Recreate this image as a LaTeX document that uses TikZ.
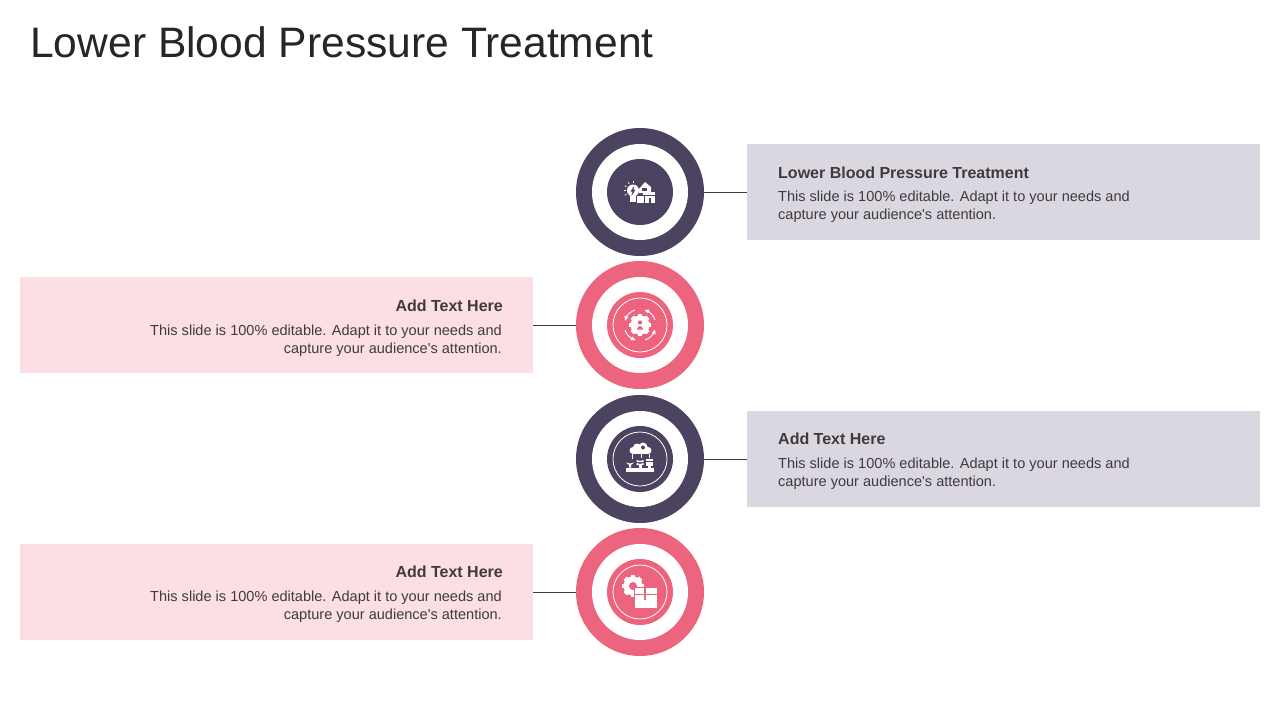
\documentclass[tikz,border=0pt]{standalone}
\usepackage{fontspec}
\setmainfont{Liberation Sans}
\definecolor{darkpurple}{HTML}{4B4360}
\definecolor{rosered}{HTML}{EC647D}
\definecolor{palepurple}{HTML}{DAD7E1}
\definecolor{palerose}{HTML}{FBDFE3}
\definecolor{inktext}{HTML}{3F3B3C}
\newcommand{\slidetext}{This slide is 100\% editable. Adapt it to your needs and\\capture your audience\textquotesingle s attention.}
\tikzset{
  ringdisc/.style={circle,inner sep=0pt,minimum size=128pt,fill=#1},
  holedisc/.style={circle,inner sep=0pt,minimum size=96pt,fill=white},
  coredisc/.style={circle,inner sep=0pt,minimum size=66pt,fill=#1},
  textbox/.style={rectangle,inner sep=0pt,minimum width=513pt,minimum height=96pt,fill=#1},
  headtext/.style={font=\fontsize{16}{19}\selectfont\bfseries,text=inktext,inner sep=0pt},
  bodytext/.style={font=\fontsize{14.55}{18}\selectfont,text=inktext,inner sep=0pt},
  link/.style={draw=inktext,line width=0.7pt},
  gearicon/.pic={
    \foreach \a in {0,45,...,315}
      {\fill[white,rotate=\a] (-2.4,-#1) rectangle (2.4,-#1+3);}
    \fill[white] (0,0) circle (#1-1.5);
  }
}
\begin{document}
\begin{tikzpicture}[x=1pt,y=-1pt]
  \useasboundingbox (0,0) rectangle (1280,720);
  \fill[white] (0,0) rectangle (1280,720);
  \node[anchor=west,inner sep=0pt,font=\fontsize{42.6}{50}\selectfont,text=black!85] (title) at (30,42) {Lower Blood Pressure Treatment};
  % circles
  \foreach \n/\y/\c in {1/192/darkpurple,2/325/rosered,3/459/darkpurple,4/592/rosered}
  {   \node[ringdisc=\c] (ring\n) at (640,\y) {};
      \node[holedisc] (hole\n) at (ring\n.center) {};
      \node[coredisc=\c] (core\n) at (ring\n.center) {};
  }
  \foreach \n in {2,3,4}
  {   \draw[white,line width=0.8pt] (core\n.center) circle (27);
  }
  % boxes
  \node[textbox=palepurple] (box1) at (1003.5,192) {};
  \node[textbox=palerose] (box2) at (276.5,325) {};
  \node[textbox=palepurple] (box3) at (1003.5,459) {};
  \node[textbox=palerose] (box4) at (276.5,592) {};
  \draw[link] (ring1.east) -- (box1.west);
  \draw[link] (ring2.west) -- (box2.east);
  \draw[link] (ring3.east) -- (box3.west);
  \draw[link] (ring4.west) -- (box4.east);
  % right texts
  \node[headtext,anchor=west] (head1) at (778,173) {Lower Blood Pressure Treatment};
  \node[bodytext,anchor=north west,align=left] (body1) at (778,190.5) {\slidetext};
  \node[headtext,anchor=west] (head3) at (778,439) {Add Text Here};
  \node[bodytext,anchor=north west,align=left] (body3) at (778,457.5) {\slidetext};
  % left texts
  \node[headtext,anchor=east] (head2) at (503,306) {Add Text Here};
  \node[bodytext,anchor=north east,align=right] (body2) at (502,324.5) {\slidetext};
  \node[headtext,anchor=east] (head4) at (503,572) {Add Text Here};
  \node[bodytext,anchor=north east,align=right] (body4) at (502,590.5) {\slidetext};
  % icon one, bulb and house
  \begin{scope}[shift={(core1.center)}]
    \fill[white] (-7,-1.5) circle (6);
    \fill[white] (-10,2) rectangle (-4,10);
    \fill[darkpurple] (-6,-6) -- (-9.5,-0.5) -- (-7.5,-0.5) -- (-8.5,4) -- (-4.5,-2.5) -- (-6.5,-2.5) -- cycle;
    \foreach \a in {150,180,210,240,270}
    {   \draw[white,line width=0.7pt] (-7,-1.5) ++(\a:7.5) -- ++(\a:2);
    }
    \fill[white] (-1,-3) -- (5,-10) -- (11,-5) -- (11,1) -- (-1,1) -- cycle;
    \fill[darkpurple] (2,-4) rectangle (7,-1);
    \fill[white] (-3,3.5) rectangle (3.5,11);
    \fill[white] (5,3.5) rectangle (15,11);
    \fill[white] (3,0) rectangle (15,2.5);
    \fill[darkpurple] (8.5,6) rectangle (11,11);
  \end{scope}
  % icon two, gear with arrows
  \begin{scope}[shift={(core2.center)}]
    \pic at (0,0) {gearicon=11};
    \fill[rosered] (0,-2.5) circle (2.2);
    \fill[rosered] (-3,4.5) arc (180:360:3 and 3.5) -- cycle;
    \foreach \a in {0,90,180,270}
    {   \draw[white,line width=0.9pt,rotate=\a] (15,-5) arc (-18:-68:16);
        \fill[white,rotate=\a] (9.5,-15.5) -- (4.5,-15) -- (8,-11.5) -- cycle;
    }
  \end{scope}
  % icon three, cloud and plants
  \begin{scope}[shift={(core3.center)}]
    \fill[white] (-7,-8.5) circle (3.5) (-3,-11.5) circle (4) (3,-12) circle (4.5) (8,-8.5) circle (3.5);
    \fill[white] (-7,-9) rectangle (8,-5);
    \fill[darkpurple] (3,-11.5) circle (2);
    \draw[white,line width=0.7pt] (-8,-5) -- (-8,0) (1,-5) -- (1,-1) (9,-5) -- (9,-1);
    \fill[white] (-14,8.5) rectangle (14,13);
    \fill[white] (-11,6) -- (-14,3.5) -- (-10,4.5) -- (-6,3.5) -- (-9,6) -- (-9,8.5) -- (-11,8.5) -- cycle;
    \foreach \h in {1,4}
    {   \fill[white] (-3.5,\h) -- (0,\h+1) -- (3.5,\h) -- (3.5,\h+2.2) -- (-3.5,\h+2.2) -- cycle;
    }
    \fill[white] (-1.5,6) rectangle (1.5,8.5);
    \foreach \h in {0,2.6,5.2}
    {   \fill[white] (5.5,\h) rectangle (12.5,\h+2);
    }
    \fill[white] (7.5,6) rectangle (10.5,8.5);
  \end{scope}
  % icon four, gear and parcel
  \begin{scope}[shift={(core4.center)}]
    \pic at (-7,-6) {gearicon=11};
    \fill[rosered] (-7,-6) circle (4);
    \fill[rosered] (-6.5,-5.5) rectangle (18,17);
    \fill[white] (-5,-4) rectangle (17,1.5);
    \fill[white] (-5,3) rectangle (17,16);
    \fill[rosered] (4,-4) rectangle (6,8);
  \end{scope}
\end{tikzpicture}
\end{document}
